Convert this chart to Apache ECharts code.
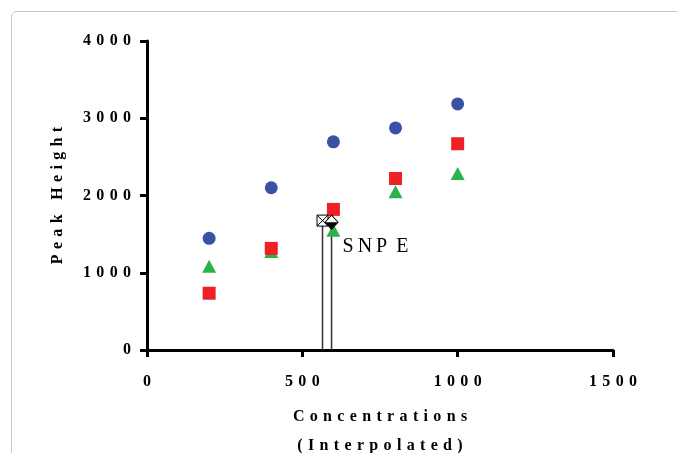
<!DOCTYPE html>
<html>
<head>
<meta charset="utf-8">
<script src="https://cdn.jsdelivr.net/npm/echarts@6/dist/echarts.min.js"></script>
<style>
  html, body { margin: 0; padding: 0; background: #fff; overflow: hidden; }
  #frame {
    position: absolute; left: 11px; top: 11px; width: 720px; height: 500px;
    border: 1px solid #c8c8c8; border-radius: 6px; box-sizing: border-box;
  }
  #chart { position: absolute; left: 0; top: 0; width: 677px; height: 453px; }
</style>
</head>
<body>
<div id="frame"></div>
<div id="chart"></div>
<script>
// concentrations measured
const concentrations = [200, 400, 600, 800, 1000];
const seriesBlue = [1445, 2100, 2695, 2875, 3185];
const seriesGreen = [1085, 1275, 1550, 2050, 2285];
const seriesRed = [735, 1315, 1820, 2220, 2670];

// interpolated SNP E points
const interpBox = [565, 1675];
const interpDiamond = [594, 1655];

const xTicks = [0, 500, 1000, 1500];
const yTicks = [0, 1000, 2000, 3000, 4000];

const spaced = (s) => String(s).split("").join("\u2004");
const serif = "'Liberation Serif', 'DejaVu Serif', serif";

const pairs = (vals) => concentrations.map((c, i) => [c, vals[i]]);

const chart = echarts.init(document.getElementById("chart"));

const axisCommon = {
  type: "value",
  splitLine: { show: false },
  axisLine: { show: true, lineStyle: { color: "#000", width: 3 } },
  axisTick: { show: true, length: 7, lineStyle: { color: "#000", width: 3 } },
  axisLabel: {
    color: "#000",
    fontFamily: serif,
    fontWeight: "bold",
    fontSize: 16,
    formatter: (v) => spaced(v)
  },
  nameLocation: "middle",
  nameTextStyle: { color: "#000", fontFamily: serif, fontWeight: "bold", fontSize: 16, lineHeight: 29 }
};

chart.setOption({
  animation: false,
  grid: { left: 147, right: 64, top: 41, bottom: 103, outerBoundsMode: "none" },
  xAxis: {
    ...axisCommon,
    min: xTicks[0],
    max: xTicks[xTicks.length - 1],
    interval: 500,
    axisLabel: { ...axisCommon.axisLabel, margin: 24 },
    name: spaced("Concentrations") + "\n" + spaced("(Interpolated)"),
    nameGap: 52
  },
  yAxis: {
    ...axisCommon,
    min: yTicks[0],
    max: yTicks[yTicks.length - 1],
    interval: 1000,
    axisLabel: { ...axisCommon.axisLabel, margin: 16 },
    name: spaced("Peak Height"),
    nameGap: 70
  },
  series: [
    {
      type: "line",
      data: [[interpBox[0], 0], interpBox],
      symbol: "none",
      lineStyle: { color: "#333", width: 1.5 },
      z: 1
    },
    {
      type: "line",
      data: [[interpDiamond[0], 0], interpDiamond],
      symbol: "none",
      lineStyle: { color: "#333", width: 1.5 },
      z: 1
    },
    {
      type: "scatter",
      data: pairs(seriesBlue),
      symbol: "circle",
      symbolSize: 13,
      itemStyle: { color: "#3953a4", opacity: 1 },
      z: 2
    },
    {
      type: "scatter",
      data: pairs(seriesGreen),
      symbol: "triangle",
      symbolSize: [14, 13],
      itemStyle: { color: "#2bb24c", opacity: 1 },
      z: 3
    },
    {
      type: "scatter",
      data: pairs(seriesRed),
      symbol: "rect",
      symbolSize: 13,
      itemStyle: { color: "#ee2127", opacity: 1 },
      z: 4
    },
    {
      type: "scatter",
      data: [interpBox],
      symbol: "path://M0,0L10,0L10,10L0,10Z M0,0L10,10 M10,0L0,10",
      symbolSize: 11,
      itemStyle: { color: "#fff", borderColor: "#000", borderWidth: 1, opacity: 1 },
      z: 5
    },
    {
      type: "scatter",
      data: [interpDiamond],
      symbol: "diamond",
      symbolSize: [13, 14],
      itemStyle: { color: "#fff", borderColor: "#000", borderWidth: 1, opacity: 1 },
      label: {
        show: true,
        position: "right",
        offset: [-1, 25],
        formatter: "S\u2009N\u2009P \u2009E",
        color: "#000",
        fontFamily: serif,
        fontSize: 20
      },
      z: 6
    },
    {
      type: "scatter",
      data: [interpDiamond],
      symbol: "triangle",
      symbolRotate: 180,
      symbolSize: [12, 7],
      symbolOffset: [0, 3.5],
      itemStyle: { color: "#000", opacity: 1 },
      z: 7
    }
  ]
});
</script>
</body>
</html>
